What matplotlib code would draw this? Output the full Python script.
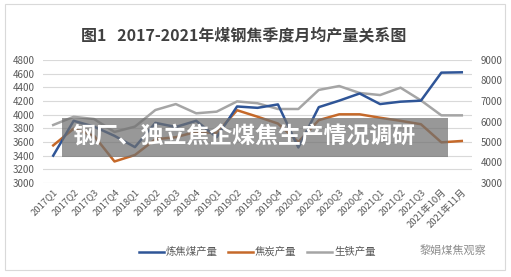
"""
Quarterly monthly-average output of coking coal, coke and pig iron, 2017-2021
"""
import matplotlib
matplotlib.use('Agg')
import matplotlib.pyplot as plt
from matplotlib.lines import Line2D
from matplotlib.patches import Rectangle

plt.rcParams['font.family'] = ['Noto Sans CJK SC', 'DejaVu Sans']

categories = ['2017Q1', '2017Q2', '2017Q3', '2017Q4', '2018Q1', '2018Q2',
              '2018Q3', '2018Q4', '2019Q1', '2019Q2', '2019Q3', '2019Q4',
              '2020Q1', '2020Q2', '2020Q3', '2020Q4', '2021Q1', '2021Q2',
              '2021Q3', '2021年10月', '2021年11月']

# left axis
coking_coal = [3400, 3910, 3825, 3690, 3525, 3880, 3820, 3910, 3670, 4120,
               4100, 4150, 3520, 4110, 4205, 4310, 4155, 4190, 4205, 4615, 4620]
coke = [3550, 3795, 3690, 3315, 3410, 3640, 3670, 3750, 3730, 4065,
        3970, 3870, 3600, 3920, 4005, 4005, 3955, 3910, 3860, 3595, 3615]
# right axis
pig_iron = [5830, 6230, 6120, 5490, 5750, 6560, 6850, 6400, 6480, 6980,
            6890, 6610, 6610, 7540, 7730, 7390, 7290, 7650, 7030, 6300, 6300]

left_ticks = list(range(3000, 4801, 200))
right_ticks = list(range(3000, 9001, 1000))

c_blue = '#2F5597'
c_orange = '#C5692A'
c_gray = '#A5A5A5'
c_text = '#595959'

fig = plt.figure(figsize=(5.11, 2.77), dpi=100)

# outer frame
fig.patches.append(Rectangle((5 / 511, 7 / 277), 500 / 511, 266 / 277,
                             transform=fig.transFigure, fill=False,
                             edgecolor='#D9D9D9', linewidth=0.8))

fig.text(0.477, 1 - 35 / 277, '图1   2017-2021年煤钢焦季度月均产量关系图',
         ha='center', va='center', fontsize=11.5, fontweight='bold',
         color='#404040')

ax = fig.add_axes([43 / 511, 1 - 183 / 277, 429 / 511, 123 / 277])
x = range(len(categories))
ax.set_ylim(3000, 4800)
ax.set_yticks(left_ticks)
ax.set_xlim(-0.5, len(categories) - 0.5)
ax.set_xticks(list(x))
ax.set_xticklabels(categories, rotation=45, ha='right',
                   rotation_mode='anchor', fontsize=6.8, color=c_text)
ax.tick_params(axis='y', labelsize=7, labelcolor=c_text, length=0, pad=6)
ax.tick_params(axis='x', length=0, pad=3)
ax.grid(axis='y', color='#D9D9D9', linewidth=0.8)
ax.set_axisbelow(True)
for s in ax.spines.values():
    s.set_visible(False)

ax2 = ax.twinx()
ax2.set_ylim(3000, 9000)
ax2.set_yticks(right_ticks)
ax2.tick_params(axis='y', labelsize=7, labelcolor=c_text, length=0, pad=6)
for s in ax2.spines.values():
    s.set_visible(False)

ax2.plot(x, pig_iron, color=c_gray, linewidth=1.8, zorder=2)
ax2.plot(x, coke, color=c_orange, linewidth=1.8, zorder=3,
         transform=ax.transData)
ax2.plot(x, coking_coal, color=c_blue, linewidth=1.8, zorder=4,
         transform=ax.transData)

handles = [Line2D([], [], color=c_blue, linewidth=1.8),
           Line2D([], [], color=c_orange, linewidth=1.8),
           Line2D([], [], color=c_gray, linewidth=1.8)]
fig.legend(handles, ['炼焦煤产量', '焦炭产量', '生铁产量'], ncol=3,
           loc='center', bbox_to_anchor=(257 / 511, 1 - 252 / 277),
           frameon=False, fontsize=7.5, labelcolor=c_text,
           handlelength=2.4, handletextpad=0.2, columnspacing=1.0)

fig.text(420 / 511, 1 - 250 / 277, '黎娟煤焦观察', ha='left', va='center',
         fontsize=8, color='#8C8C8C')

# banner overlay
fig.patches.append(Rectangle((62 / 511, 1 - 157 / 277), 386 / 511, 39 / 277,
                             transform=fig.transFigure, facecolor='#707070',
                             alpha=0.72, edgecolor='none', zorder=10))
fig.text(244 / 511, 1 - 137 / 277, '钢厂、独立焦企煤焦生产情况调研',
         ha='center', va='center', fontsize=16.5, fontweight='bold',
         color='white', zorder=11)

fig.savefig('out.png', dpi=100)
